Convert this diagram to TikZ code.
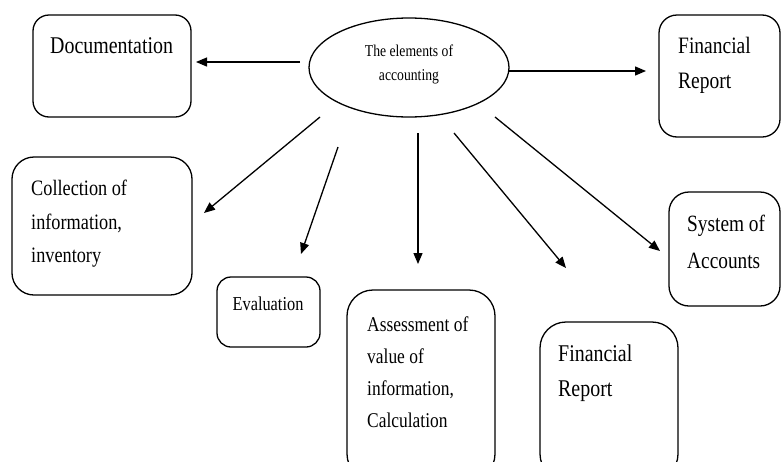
\documentclass[tikz,border=0pt]{standalone}
\usepackage{fontspec}
\setmainfont{Liberation Serif}
\newfontfamily\condserif[FakeStretch=0.83]{Liberation Serif}
\usetikzlibrary{arrows.meta,shapes.geometric}
\begin{document}
\begin{tikzpicture}[x=1pt,y=-1pt,
  box/.style={draw,line width=1.3pt,rectangle,inner sep=0pt},
  lbl/.style={anchor=north west,inner sep=0pt,align=left},
  arr/.style={line width=1.3pt,-{Triangle[length=11pt,width=9pt]}}]
\useasboundingbox (0,0) rectangle (781,461);
\clip (0,0) rectangle (781,461);
% boxes
\node[box,rounded corners=16pt,minimum width=158pt,minimum height=102pt] (doc) at (112,66) {};
\node[box,rounded corners=18pt,minimum width=121pt,minimum height=122pt] (fr1) at (719.5,76) {};
\node[box,rounded corners=22pt,minimum width=180pt,minimum height=138pt] (coll) at (102,226) {};
\node[box,rounded corners=14pt,minimum width=103pt,minimum height=70pt] (eval) at (268.5,312) {};
\node[box,rounded corners=26pt,minimum width=148pt,minimum height=190pt] (assess) at (421,385) {};
\node[box,rounded corners=26pt,minimum width=138pt,minimum height=158pt] (fr2) at (609,401) {};
\node[box,rounded corners=20pt,minimum width=111pt,minimum height=114pt] (sys) at (724.5,249) {};
\node[draw,line width=1.3pt,ellipse,minimum width=200pt,minimum height=99pt,inner sep=0pt] (el) at (409,67.5) {};
% texts
\node[lbl,font=\condserif\fontsize{24}{34}\selectfont] (doct) at (50,37) {Documentation};
\node[anchor=center,inner sep=0pt,align=center,font=\condserif\fontsize{16.5}{24}\selectfont] (elt) at (409,64) {The elements of\\accounting};
\node[lbl,font=\condserif\fontsize{23.5}{35}\selectfont] (fr1t) at (678,37) {Financial\\Report};
\node[lbl,font=\condserif\fontsize{22}{33.5}\selectfont] (collt) at (31,180) {Collection of\\information,\\inventory};
\node[anchor=north,inner sep=0pt,font=\condserif\fontsize{19.7}{28}\selectfont] (evalt) at (268,297) {Evaluation};
\node[lbl,font=\condserif\fontsize{21}{32}\selectfont] (assesst) at (367,317) {Assessment of\\value of\\information,\\Calculation};
\node[lbl,font=\condserif\fontsize{24}{35}\selectfont] (fr2t) at (558,345) {Financial\\Report};
\node[lbl,font=\condserif\fontsize{23.3}{36.5}\selectfont] (syst) at (687,215) {System of\\Accounts};
% arrow ends
\coordinate (s1) at (300,62);  \coordinate (e1) at (196,62);
\coordinate (s2) at (509,71);  \coordinate (e2) at (646,71);
\coordinate (s3) at (320,117); \coordinate (e3) at (204,213);
\coordinate (s4) at (338,147); \coordinate (e4) at (301,254);
\coordinate (s5) at (418,133); \coordinate (e5) at (418,264);
\coordinate (s6) at (454,133); \coordinate (e6) at (566,268);
\coordinate (s7) at (495,117); \coordinate (e7) at (660,251);
\foreach \i in {1,...,7} {\draw[arr] (s\i) -- (e\i);}
\end{tikzpicture}
\end{document}
